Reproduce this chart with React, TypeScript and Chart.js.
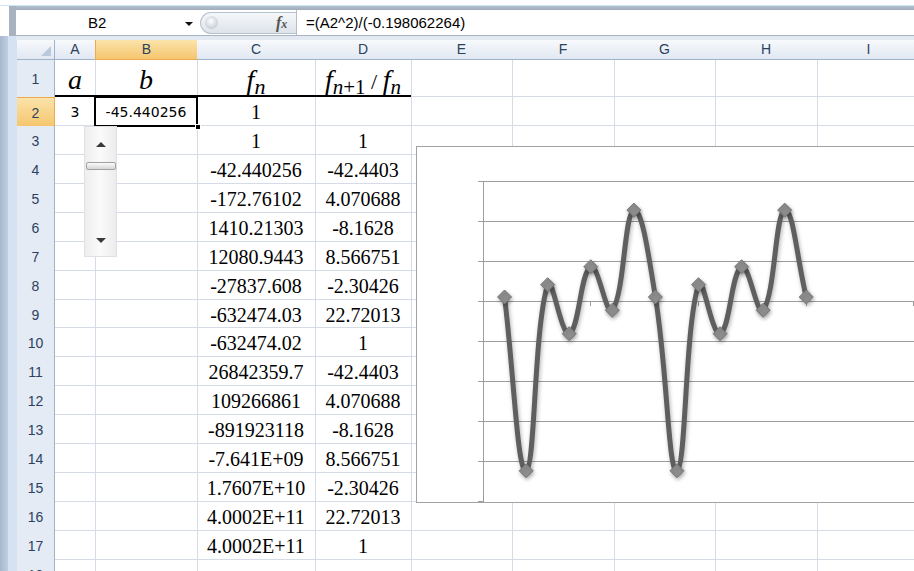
import React, { useEffect, useRef } from "react";
import { Chart, registerables } from "chart.js";

Chart.register(...registerables);

// ---- Sheet contents ----
const columnLetters = ["A", "B", "C", "D", "E", "F", "G", "H", "I"];
const rowNumbers = [1, 2, 3, 4, 5, 6, 7, 8, 9, 10, 11, 12, 13, 14, 15, 16, 17, 18];
const nameBoxText = "B2";
const formulaText = "=(A2^2)/(-0.198062264)";
const aValue = "3";
const bValue = "-45.440256";
// column C, rows 2..17
const fnTexts = [
  "1", "1", "-42.440256", "-172.76102", "1410.21303", "12080.9443", "-27837.608",
  "-632474.03", "-632474.02", "26842359.7", "109266861", "-891923118",
  "-7.641E+09", "1.7607E+10", "4.0002E+11", "4.0002E+11",
];
// column D, rows 3..17 (also the plotted series)
const ratioValues = [
  1, -42.4403, 4.070688, -8.1628, 8.566751, -2.30426, 22.72013,
  1, -42.4403, 4.070688, -8.1628, 8.566751, -2.30426, 22.72013, 1,
];
// chart categories: sheet rows of the plotted range D2:D23
const chartCategories = [
  "2", "3", "4", "5", "6", "7", "8", "9", "10", "11", "12",
  "13", "14", "15", "16", "17", "18", "19", "20", "21", "22", "23",
];
const yMin = -50;
const yMax = 30;
const yStep = 10;

// ---- Layout ----
const colEdges = [55, 95, 197, 315, 411, 512, 614, 715, 817, 920];
const rowTop = (r: number) => (r === 1 ? 60 : 97 + (r - 2) * 28.93);
const rowBottom = (r: number) => (r === 1 ? 97 : rowTop(r + 1));

const GRID = "#9c9c9c";
const CELL_LINE = "#d5dce7";
const HEADER_TEXT = "#2b4160";
const SERIF = '"Liberation Serif", "Times New Roman", serif';
const SANS = '"Liberation Sans", Arial, sans-serif';

const abs = (s: React.CSSProperties): React.CSSProperties => ({ position: "absolute", boxSizing: "border-box", ...s });

const lineShadow = {
  id: "lineShadow",
  beforeDatasetsDraw(chart: any) {
    const c = chart.ctx;
    c.save();
    c.shadowColor = "rgba(0,0,0,0.3)";
    c.shadowBlur = 4;
    c.shadowOffsetX = 1;
    c.shadowOffsetY = 2;
  },
  afterDatasetsDraw(chart: any) {
    chart.ctx.restore();
  },
};

function RatioChart() {
  const canvasRef = useRef<HTMLCanvasElement>(null);
  useEffect(() => {
    const canvas = canvasRef.current;
    if (!canvas) return;
    const series = chartCategories.map((_, i) =>
      i >= 1 && i <= ratioValues.length ? ratioValues[i - 1] : null
    );
    const chart = new Chart(canvas, {
      type: "line",
      data: {
        labels: chartCategories,
        datasets: [
          {
            data: series,
            borderColor: "#5f5f5f",
            borderWidth: 5,
            tension: 0.42,
            fill: false,
            pointStyle: "rectRot",
            pointRadius: 7,
            pointBackgroundColor: "#8e8e8e",
            pointBorderColor: "#777777",
            pointBorderWidth: 1,
          },
        ],
      },
      options: {
        animation: false,
        responsive: false,
        events: [],
        layout: { autoPadding: false, padding: { top: 34, bottom: 1, left: 0, right: 2.45 } },
        plugins: { legend: { display: false }, tooltip: { enabled: false } },
        scales: {
          x: {
            type: "category",
            position: { y: 0 } as any,
            ticks: { display: false },
            grid: {
              drawOnChartArea: false,
              drawTicks: true,
              tickLength: 4,
              tickColor: (c: any) => (c.index % 5 === 0 ? GRID : "rgba(0,0,0,0)"),
            },
            border: { color: GRID, width: 1 },
          },
          y: {
            min: yMin,
            max: yMax,
            ticks: { display: false, stepSize: yStep },
            grid: {
              color: (c: any) => (c.tick && c.tick.value === yMin ? "rgba(0,0,0,0)" : GRID),
              tickColor: GRID,
              tickLength: 5,
              drawTicks: true,
            },
            border: { color: GRID, width: 1 },
            afterFit: (s: any) => {
              s.width = 66;
            },
          },
        },
      },
      plugins: [lineShadow],
    });
    return () => chart.destroy();
  }, []);
  return (
    <div style={abs({ left: 416, top: 146, width: 540, height: 357, border: "1px solid #a2a2a2", background: "#fff" })}>
      <canvas ref={canvasRef} width={521} height={355} style={{ position: "absolute", left: 0, top: 0 }} />
    </div>
  );
}

function Cell({ col, row, children, style }: { col: number; row: number; children: React.ReactNode; style?: React.CSSProperties }) {
  const top = rowTop(row);
  const h = rowBottom(row) - top;
  return (
    <div
      style={abs({
        left: colEdges[col],
        top,
        width: colEdges[col + 1] - colEdges[col],
        height: h,
        textAlign: "center",
        whiteSpace: "nowrap",
        color: "#000",
        ...style,
        lineHeight: `${h + 2}px`,
      })}
    >
      {children}
    </div>
  );
}

export default function App() {
  const headerBg = "linear-gradient(#f7f9fc, #e1e8f2)";
  const selBg = "linear-gradient(#fbe3aa, #f5c66e)";
  return (
    <div style={abs({ position: "fixed", left: 0, top: 0, width: 914, height: 571, overflow: "hidden", background: "#fff", fontFamily: SANS })}>
      {/* window frame */}
      <div style={abs({ left: 0, top: 5, width: 914, height: 1, background: "#cfe6f5" })} />
      <div style={abs({ left: 9, top: 6, width: 905, height: 4, background: "linear-gradient(#b4bfcc, #a1adbc)" })} />
      <div style={abs({ left: 9, top: 6, width: 7, height: 30, background: "#a9b3c0" })} />
      <div style={abs({ left: 0, top: 36, width: 8, height: 535, background: "linear-gradient(90deg, #a7b7cc, #c0cee0)" })} />
      <div style={abs({ left: 8, top: 36, width: 9, height: 535, background: "#d4e2f3" })} />

      {/* formula bar */}
      <div style={abs({ left: 16, top: 10, width: 898, height: 25, background: "#fff" })} />
      <div style={abs({ left: 16, top: 10, width: 180, height: 25, font: `15px ${SANS}`, lineHeight: "25px" })}>
        <span style={{ position: "absolute", left: 72, color: "#000" }}>{nameBoxText}</span>
        <span style={{ position: "absolute", left: 169, top: 12, width: 0, height: 0, borderLeft: "4px solid transparent", borderRight: "4px solid transparent", borderTop: "4px solid #111" }} />
      </div>
      <div style={abs({ left: 200, top: 12, width: 97, height: 22, borderRadius: "11px 0 0 11px", border: "1px solid #b6c1ce", borderRight: "none", background: "linear-gradient(#f6f8fa, #dde3ea)" })} />
      <div style={abs({ left: 205, top: 16, width: 13, height: 13, borderRadius: 7, background: "radial-gradient(circle at 45% 40%, #ffffff, #c9cfd6 70%, #aeb6c0)" })} />
      <div style={abs({ left: 276, top: 10, font: `italic bold 16px ${SERIF}`, color: "#555", lineHeight: "25px" })}>
        f<span style={{ fontSize: 12 }}>x</span>
      </div>
      <div style={abs({ left: 296, top: 10, width: 1, height: 25, background: "#b3becb" })} />
      <div style={abs({ left: 306, top: 10, height: 25, font: `15px ${SANS}`, lineHeight: "26px", color: "#000", whiteSpace: "nowrap" })}>{formulaText}</div>
      <div style={abs({ left: 16, top: 35, width: 898, height: 1, background: "#a7b5c6" })} />
      <div style={abs({ left: 16, top: 36, width: 898, height: 4, background: "#e3e9f1" })} />

      {/* select-all corner */}
      <div style={abs({ left: 17, top: 40, width: 38, height: 20, background: headerBg, borderRight: "1px solid #9fb3cb", borderBottom: "1px solid #9fb3cb" })}>
        <div style={abs({ right: 3, bottom: 3, width: 0, height: 0, borderLeft: "10px solid transparent", borderBottom: "10px solid #b9c8db" })} />
      </div>

      {/* column headers */}
      {columnLetters.map((L, i) => {
        const sel = L === "B";
        return (
          <div
            key={L}
            style={abs({
              left: colEdges[i],
              top: 40,
              width: colEdges[i + 1] - colEdges[i] + 1,
              height: 20,
              background: sel ? selBg : headerBg,
              borderRight: `1px solid ${sel ? "#f0a94c" : "#c2cedd"}`,
              borderLeft: sel ? "1px solid #f0a94c" : undefined,
              borderBottom: `1px solid ${sel ? "#f0a94c" : "#9fb3cb"}`,
              textAlign: "center",
              font: `14px ${SANS}`,
              lineHeight: "19px",
              color: HEADER_TEXT,
            })}
          >
            {L}
          </div>
        );
      })}

      {/* row headers */}
      {rowNumbers.map((r) => {
        const sel = r === 2;
        const top = rowTop(r);
        const h = rowBottom(r) - top;
        return (
          <div
            key={r}
            style={abs({
              left: 17,
              top: Math.round(top),
              width: 38,
              height: Math.round(h) + 1,
              background: sel ? selBg : "#e4ebf5",
              borderRight: `1px solid ${sel ? "#f0a94c" : "#9fb3cb"}`,
              borderBottom: `1px solid ${sel ? "#f0a94c" : "#c2cedd"}`,
              borderTop: sel ? "1px solid #f0a94c" : undefined,
              textAlign: "center",
              font: `14px ${SANS}`,
              lineHeight: `${Math.round(h) + 2}px`,
              color: HEADER_TEXT,
            })}
          >
            {r}
          </div>
        );
      })}

      {/* cell grid lines */}
      {colEdges.slice(1).map((x) => (
        <div key={"v" + x} style={abs({ left: x, top: 60, width: 1, height: 520, background: CELL_LINE })} />
      ))}
      {rowNumbers.map((r) => (
        <div key={"h" + r} style={abs({ left: 55, top: Math.round(rowBottom(r)) - 1, width: 870, height: 1, background: CELL_LINE })} />
      ))}

      {/* row 1 headings */}
      <div style={abs({ left: 55, top: 95, width: 356, height: 2, background: "#000" })} />
      <Cell col={0} row={1} style={{ font: `italic 28px ${SERIF}` }}>a</Cell>
      <Cell col={1} row={1} style={{ font: `italic 28px ${SERIF}` }}>b</Cell>
      <Cell col={2} row={1} style={{ font: `italic 28px ${SERIF}` }}>
        f<span style={{ fontSize: 22, position: "relative", top: 5 }}>n</span>
      </Cell>
      <Cell col={3} row={1} style={{ font: `italic 28px ${SERIF}` }}>
        f
        <span style={{ fontSize: 21, position: "relative", top: 5 }}>
          n<span style={{ fontStyle: "normal" }}>+1</span>
        </span>
        <span style={{ fontSize: 22, fontStyle: "normal" }}> / </span>f
        <span style={{ fontSize: 21, position: "relative", top: 5 }}>n</span>
      </Cell>

      {/* row 2 */}
      <Cell col={0} row={2} style={{ font: `14px "DejaVu Sans", sans-serif` }}>{aValue}</Cell>
      <Cell col={1} row={2} style={{ font: `14px "DejaVu Sans", sans-serif` }}>{bValue}</Cell>

      {/* column C values */}
      {fnTexts.map((t, i) => (
        <Cell key={"c" + i} col={2} row={i + 2} style={{ font: `20px ${SERIF}` }}>{t}</Cell>
      ))}
      {/* column D values */}
      {ratioValues.map((v, i) => (
        <Cell key={"d" + i} col={3} row={i + 3} style={{ font: `20px ${SERIF}` }}>{String(v)}</Cell>
      ))}

      {/* active cell B2 */}
      <div style={abs({ left: 94, top: 96, width: 104, height: 31, border: "2px solid #000" })} />
      <div style={abs({ left: 195, top: 124, width: 6, height: 6, background: "#000", border: "1px solid #fff" })} />

      {/* scroll bar control */}
      <div style={abs({ left: 84, top: 126, width: 33, height: 131, background: "linear-gradient(90deg, #eeeeee, #fafafa 50%, #ececec)", border: "1px solid #e0e0e0" })}>
        <div style={abs({ left: 11, top: 15, width: 0, height: 0, borderLeft: "5px solid transparent", borderRight: "5px solid transparent", borderBottom: "5px solid #3a3a3a" })} />
        <div style={abs({ left: 1, top: 35, width: 30, height: 8, borderRadius: 2, border: "1px solid #a1a1a1", background: "linear-gradient(#fbfbfb, #d6d6d6)" })} />
        <div style={abs({ left: 11, top: 111, width: 0, height: 0, borderLeft: "5px solid transparent", borderRight: "5px solid transparent", borderTop: "5px solid #3a3a3a" })} />
      </div>

      <RatioChart />
    </div>
  );
}
